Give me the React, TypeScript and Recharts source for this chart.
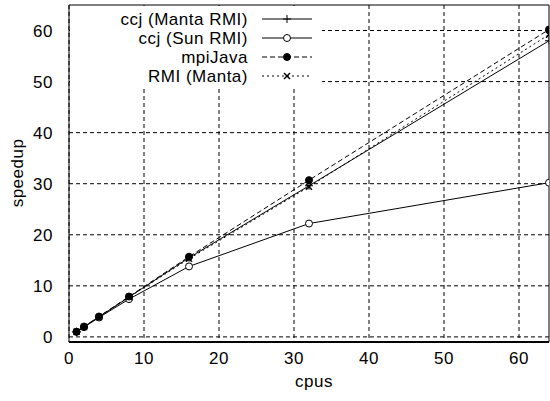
import React from "react";
import {
  LineChart,
  Line,
  XAxis,
  YAxis,
  CartesianGrid,
  Legend,
  ReferenceLine,
} from "recharts";

const cpus = [1, 2, 4, 8, 16, 32, 64];
const ccjManta = [1, 2, 3.9, 7.8, 15.5, 29.6, 58];
const ccjSun = [1, 1.9, 3.8, 7.4, 13.8, 22.2, 30.2];
const mpiJava = [1, 2, 4, 7.9, 15.7, 30.7, 60.2];
const rmiManta = [1, 2, 3.9, 7.8, 15.3, 29.4, 59.2];

const xTicks = [0, 10, 20, 30, 40, 50, 60];
const yTicks = [0, 10, 20, 30, 40, 50, 60];

const data = cpus.map((c, i) => ({
  cpus: c,
  ccjManta: ccjManta[i],
  ccjSun: ccjSun[i],
  mpiJava: mpiJava[i],
  rmiManta: rmiManta[i],
}));

type Marker = "plus" | "open" | "filled" | "cross";

const series: { key: string; name: string; dash?: string; marker: Marker }[] = [
  { key: "ccjManta", name: "ccj (Manta RMI)", marker: "plus" },
  { key: "ccjSun", name: "ccj (Sun RMI)", marker: "open" },
  { key: "mpiJava", name: "mpiJava", dash: "5 3", marker: "filled" },
  { key: "rmiManta", name: "RMI (Manta)", dash: "2 3", marker: "cross" },
];

const FONT = "'Liberation Sans', Arial, sans-serif";
const FS = 17;
const LS = 0.5;

function drawMarker(m: Marker, cx: number, cy: number, key?: string | number) {
  if (m === "plus")
    return (
      <g key={key}>
        <line x1={cx - 4} y1={cy} x2={cx + 4} y2={cy} stroke="#000" />
        <line x1={cx} y1={cy - 4} x2={cx} y2={cy + 4} stroke="#000" />
      </g>
    );
  if (m === "open")
    return <circle key={key} cx={cx} cy={cy} r={3.5} fill="#fff" stroke="#000" />;
  if (m === "filled")
    return <circle key={key} cx={cx} cy={cy} r={3.5} fill="#000" stroke="#000" />;
  return (
    <g key={key}>
      <line x1={cx - 3} y1={cy - 3} x2={cx + 3} y2={cy + 3} stroke="#000" strokeWidth={1.5} />
      <line x1={cx - 3} y1={cy + 3} x2={cx + 3} y2={cy - 3} stroke="#000" strokeWidth={1.5} />
    </g>
  );
}

function KeyBox() {
  return (
    <svg width={252} height={82} style={{ display: "block" }}>
      <rect x={0} y={0} width={252} height={82} fill="#fff" />
      {series.map((s, i) => {
        const y = 13 + i * 19;
        return (
          <g key={s.key}>
            <text
              x={178}
              y={y}
              textAnchor="end"
              dominantBaseline="central"
              fontSize={FS}
              letterSpacing={LS}
              fontFamily={FONT}
              fill="#000"
            >
              {s.name}
            </text>
            <line x1={192} y1={y} x2={242} y2={y} stroke="#000" strokeDasharray={s.dash} />
            {drawMarker(s.marker, 217, y)}
          </g>
        );
      })}
    </svg>
  );
}

const tickStyle = { fill: "#000", fontSize: FS, fontFamily: FONT, letterSpacing: LS };

export default function App() {
  return (
    <div style={{ position: "absolute", left: 0, top: 0, background: "#fff" }}>
      <LineChart
        width={550}
        height={401}
        data={data}
        margin={{ top: 5, right: 1, bottom: 0, left: 0 }}
      >
        <CartesianGrid stroke="#000" strokeDasharray="4 3" horizontalValues={yTicks} verticalValues={xTicks} />
        <XAxis
          dataKey="cpus"
          type="number"
          domain={[0, 64]}
          ticks={xTicks}
          allowDataOverflow
          height={59}
          tickSize={0}
          tickMargin={10}
          stroke="#000"
          strokeWidth={2}
          tick={tickStyle}
          label={{
            content: () => (
              <text
                x={314}
                y={387}
                textAnchor="middle"
                fontSize={FS}
                letterSpacing={LS}
                fontFamily={FONT}
                fill="#000"
              >
                cpus
              </text>
            ),
          }}
        />
        <YAxis
          type="number"
          domain={[-1, 65]}
          ticks={yTicks}
          allowDataOverflow
          width={69}
          tickSize={0}
          tickMargin={16}
          stroke="#000"
          tick={tickStyle}
          label={{
            content: () => (
              <text
                x={17}
                y={173}
                transform="rotate(-90 17 173)"
                textAnchor="middle"
                dominantBaseline="central"
                fontSize={FS}
                letterSpacing={LS}
                fontFamily={FONT}
                fill="#000"
              >
                speedup
              </text>
            ),
          }}
        />
        <ReferenceLine y={65} stroke="#000" />
        <ReferenceLine x={64} stroke="#000" />
        <Legend
          layout="horizontal"
          align="center"
          verticalAlign="middle"
          content={() => <KeyBox />}
          wrapperStyle={{ position: "absolute", left: 70, top: 6, width: 252, height: 82 }}
        />
        {series.map((s) => (
          <Line
            key={s.key}
            dataKey={s.key}
            name={s.name}
            type="linear"
            stroke="#000"
            strokeWidth={1}
            strokeDasharray={s.dash}
            isAnimationActive={false}
            dot={(p: any) => drawMarker(s.marker, p.cx, p.cy, `${s.key}-${p.index}`)}
            activeDot={false}
          />
        ))}
      </LineChart>
    </div>
  );
}
